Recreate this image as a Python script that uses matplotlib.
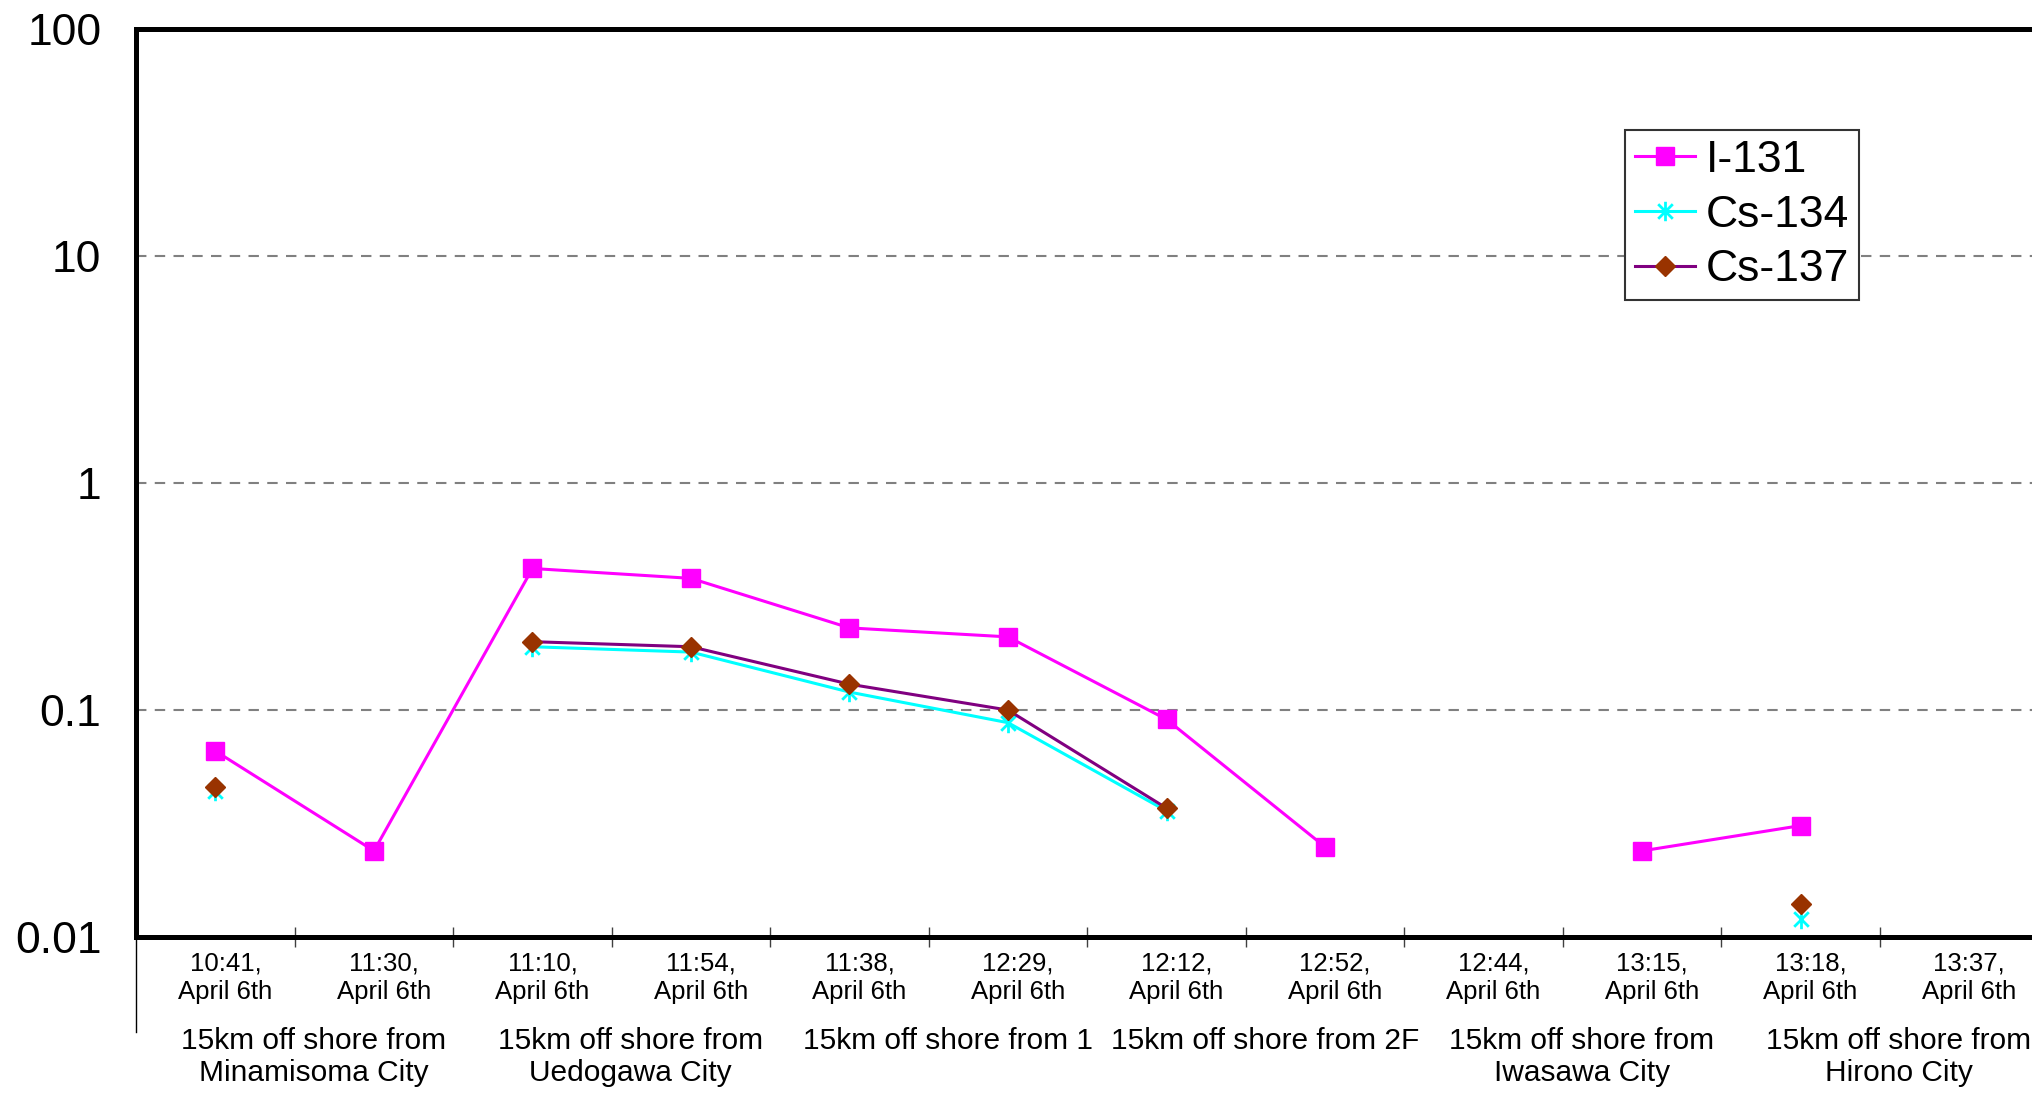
import numpy as np
import matplotlib
matplotlib.use("Agg")
import matplotlib.pyplot as plt
import matplotlib.transforms as mtransforms
from matplotlib.path import Path

plt.rcParams['font.family'] = ['Liberation Sans', 'DejaVu Sans']

# sampling times (one per category)
times = ["10:41,", "11:30,", "11:10,", "11:54,", "11:38,", "12:29,",
         "12:12,", "12:52,", "12:44,", "13:15,", "13:18,", "13:37,"]
date_label = "April 6th"

# sampling points, two categories each
places = ["15km off shore from\nMinamisoma City",
          "15km off shore from\nUedogawa City",
          "15km off shore from 1",
          "15km off shore from 2F",
          "15km off shore from\nIwasawa City",
          "15km off shore from\nHirono City"]

nan = np.nan
i131 = [0.066, 0.024, 0.42, 0.38, 0.23, 0.21, 0.091, 0.025, nan, 0.024, 0.031, nan]
cs134 = [0.044, nan, 0.19, 0.18, 0.12, 0.088, 0.036, nan, nan, nan, 0.012, nan]
cs137 = [0.046, nan, 0.20, 0.19, 0.13, 0.10, 0.037, nan, nan, nan, 0.014, nan]

# excel style asterisk: an x with a vertical bar
asterisk = Path([(0, -1), (0, 1), (-0.75, -0.75), (0.75, 0.75), (-0.75, 0.75), (0.75, -0.75)],
                [Path.MOVETO, Path.LINETO, Path.MOVETO, Path.LINETO, Path.MOVETO, Path.LINETO])


def main():
    fig = plt.figure(figsize=(20.33, 10.98), dpi=100)
    ax = fig.add_axes([0.067, 0.1464, 0.9356, 0.8276])

    x = np.arange(len(times))

    ax.plot(x, i131, color='#FF00FF', lw=2.2, marker='s', markersize=13,
            markeredgecolor='#FF00FF', markerfacecolor='#FF00FF', label='I-131', zorder=3)
    ax.plot(x, cs134, color='#00FFFF', lw=2.2, marker=asterisk, markersize=14,
            markeredgewidth=2.0, markeredgecolor='#00FFFF', label='Cs-134', zorder=3)
    ax.plot(x, cs137, color='#800080', lw=2.2, marker='D', markersize=10,
            markerfacecolor='#993300', markeredgecolor='#993300', label='Cs-137', zorder=4)

    ax.set_yscale('log')
    ax.set_ylim(0.01, 100)
    ax.set_xlim(-0.5, len(times) - 0.5)

    ax.set_yticks([0.01, 0.1, 1, 10, 100])
    ax.set_yticklabels(['0.01', '0.1', '1', '10', '100'])
    ax.yaxis.set_minor_locator(matplotlib.ticker.NullLocator())
    ax.tick_params(axis='y', length=0, pad=25, labelsize=32)

    # horizontal dashed grid
    ax.yaxis.grid(True, which='major', color='#808080', linestyle=(0, (5, 4)), lw=1.5)

    # category boundaries as ticks, labels on minor ticks at centres
    ax.set_xticks(np.arange(0.5, len(times) - 0.5, 1.0))
    ax.set_xticklabels([])
    ax.tick_params(axis='x', which='major', direction='inout', length=14, width=1.0, color='#404040')
    ax.set_xticks(x, minor=True)
    ax.set_xticklabels([t + "\n" + date_label for t in times], minor=True)
    ax.tick_params(axis='x', which='minor', length=0, pad=10, labelsize=18.5)
    shift = mtransforms.ScaledTranslation(10 / 100, 0, fig.dpi_scale_trans)
    for lab in ax.get_xticklabels(minor=True):
        lab.set_linespacing(1.24)
        lab.set_transform(lab.get_transform() + shift)

    for side in ['left', 'bottom', 'top']:
        ax.spines[side].set_linewidth(3.6)
        ax.spines[side].set_color('black')
    ax.spines['right'].set_visible(False)

    # thin extension of the left axis down past the category labels
    ax.plot([0, 0], [0, -0.104], transform=ax.transAxes, color='black', lw=1.0, clip_on=False)

    # group labels under pairs of categories
    trans = mtransforms.blended_transform_factory(ax.transData, ax.transAxes)
    for i, name in enumerate(places):
        ax.text(2 * i + 0.62, -0.099, name, transform=trans, ha='center', va='top',
                fontsize=21.5, linespacing=1.16)

    ax.legend(loc='upper left', bbox_to_anchor=(0.7993, 0.8815), bbox_transform=fig.transFigure,
              borderaxespad=0, fontsize=32, frameon=True, fancybox=False, framealpha=1,
              edgecolor='#333333', borderpad=0.22, handlelength=1.35, handletextpad=0.24,
              labelspacing=0.31)
    ax.get_legend().get_frame().set_linewidth(1.5)

    fig.savefig("out.png", dpi=100)


if __name__ == "__main__":
    main()
